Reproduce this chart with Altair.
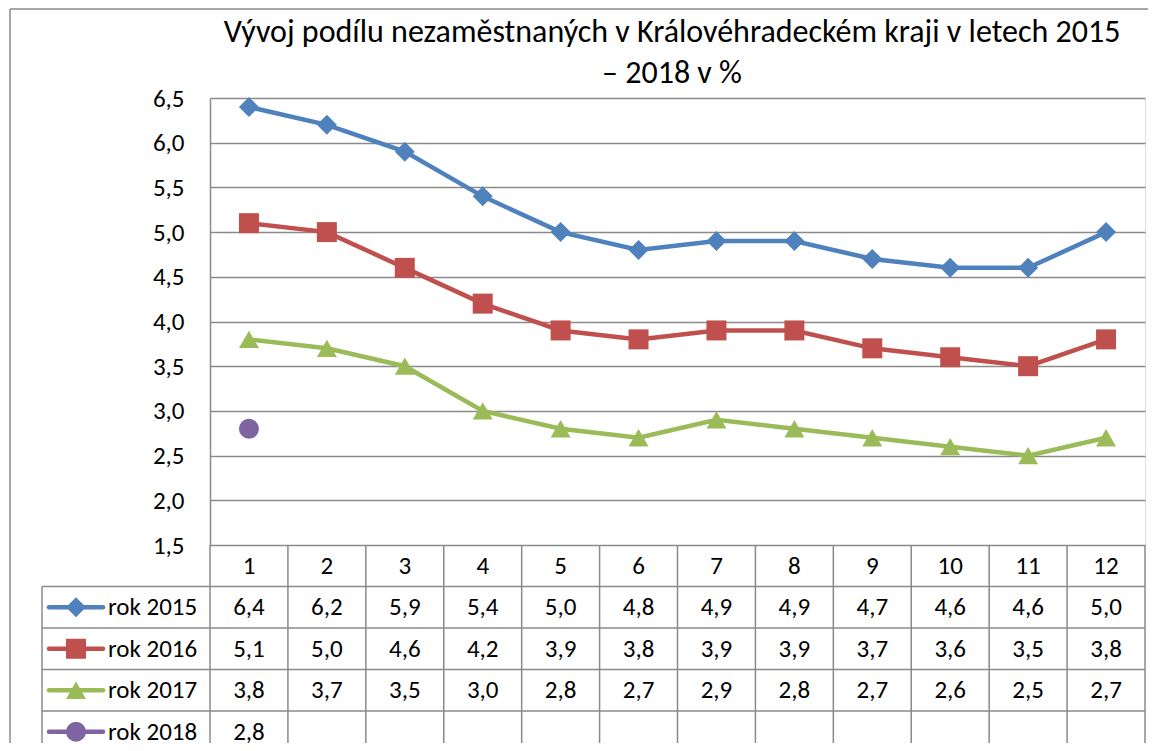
import altair as alt
import pandas as pd

# ---------------- data ----------------
months = list(range(1, 13))
series = ["rok 2015", "rok 2016", "rok 2017", "rok 2018"]
v2015 = [6.4, 6.2, 5.9, 5.4, 5.0, 4.8, 4.9, 4.9, 4.7, 4.6, 4.6, 5.0]
v2016 = [5.1, 5.0, 4.6, 4.2, 3.9, 3.8, 3.9, 3.9, 3.7, 3.6, 3.5, 3.8]
v2017 = [3.8, 3.7, 3.5, 3.0, 2.8, 2.7, 2.9, 2.8, 2.7, 2.6, 2.5, 2.7]
v2018 = [2.8]
y_ticks = [1.5, 2.0, 2.5, 3.0, 3.5, 4.0, 4.5, 5.0, 5.5, 6.0, 6.5]
title_lines = ["Vývoj podílu nezaměstnaných v Královéhradeckém kraji v letech 2015",
               "– 2018 v %"]

# ---------------- style ----------------
colors = ["#4F81BD", "#C0504D", "#9BBB59", "#8064A2"]
shapes = ["diamond", "square", "triangle-up", "circle"]
sizes = [400, 400, 480, 441]
FONT = "Carlito, Lato, sans-serif"
FS = 25
GRID = "#8a8a8a"
W, H = 935, 447
ROWS = 5
ROW_RANGE = [H, H + 207.5]

values = [v2015, v2016, v2017, v2018]
recs = []
for i, (s, vals) in enumerate(zip(series, values)):
    for m, v in zip(months, vals):
        recs.append({"series": s, "month": m, "value": v, "row": i + 1.5,
                     "label": f"{v:.1f}".replace(".", ",")})
df = pd.DataFrame(recs)
header = pd.DataFrame({"month": months, "row": 0.5, "label": [str(m) for m in months]})
leg = pd.DataFrame({"series": series, "row": [i + 1.5 for i in range(len(series))]})
hlines = pd.DataFrame({"row": list(range(1, ROWS + 1))})
vlines = pd.DataFrame({"b": [m - 0.5 for m in months] + [months[-1] + 0.5], "top": 0, "bot": ROWS})
leftedge = pd.DataFrame({"top": [1], "bot": [ROWS]})
dummy = pd.DataFrame({"a": [0]})
title_df = pd.DataFrame({"t": ["\n".join(title_lines)]})

xs = alt.Scale(domain=[0.5, 12.5], nice=False, zero=False)
ys = alt.Scale(domain=[1.5, 6.5], nice=False, zero=False)
ts = alt.Scale(domain=[0, ROWS], range=ROW_RANGE, nice=False, zero=False)
cs = alt.Scale(domain=series, range=colors)
shs = alt.Scale(domain=series, range=shapes)
szs = alt.Scale(domain=series, range=sizes)

yaxis = alt.Axis(values=y_ticks, labelExpr="replace(format(datum.value, '.1f'), '.', ',')",
                 grid=True, gridColor=GRID, gridWidth=1.5, domainColor=GRID, domainWidth=1.5,
                 ticks=False, labelPadding=26, labelFont=FONT, labelFontSize=FS,
                 labelColor="black", title=None)

lines = alt.Chart(df).mark_line(strokeWidth=4.5).encode(
    x=alt.X("month:Q", scale=xs, axis=None),
    y=alt.Y("value:Q", scale=ys, axis=yaxis),
    color=alt.Color("series:N", scale=cs, legend=None),
)
points = alt.Chart(df).mark_point(filled=True, opacity=1, strokeWidth=0).encode(
    x=alt.X("month:Q", scale=xs, axis=None),
    y=alt.Y("value:Q", scale=ys),
    color=alt.Color("series:N", scale=cs, legend=None),
    shape=alt.Shape("series:N", scale=shs, legend=None),
    size=alt.Size("series:N", scale=szs, legend=None),
)
frame_left = alt.Chart(dummy).mark_rule(color=GRID, strokeWidth=1.5).encode(
    x=alt.value(-200), y=alt.value(-89), y2=alt.value(700))
frame_top = alt.Chart(dummy).mark_rule(color=GRID, strokeWidth=1.5).encode(
    x=alt.value(-200), x2=alt.value(1000), y=alt.value(-89))
title = alt.Chart(title_df).mark_text(font=FONT, fontSize=32, color="black", align="center",
                                      baseline="alphabetic", lineBreak="\n",
                                      lineHeight=41).encode(
    x=alt.value(462), y=alt.value(-56), text="t:N")

plot = alt.layer(frame_left, frame_top, title, lines, points)

# ---------------- data table ----------------
h_rules = alt.Chart(hlines).mark_rule(color=GRID, strokeWidth=1.5).encode(
    y=alt.Y("row:Q", scale=ts, axis=None), x=alt.value(-168), x2=alt.value(W))
v_rules = alt.Chart(vlines).mark_rule(color=GRID, strokeWidth=1.5).encode(
    x=alt.X("b:Q", scale=xs, axis=None),
    y=alt.Y("top:Q", scale=ts, axis=None), y2="bot:Q")
left_rule = alt.Chart(leftedge).mark_rule(color=GRID, strokeWidth=1.5).encode(
    x=alt.value(-168), y=alt.Y("top:Q", scale=ts, axis=None), y2="bot:Q")
head_text = alt.Chart(header).mark_text(font=FONT, fontSize=FS, color="black",
                                        baseline="middle").encode(
    x=alt.X("month:Q", scale=xs, axis=None),
    y=alt.Y("row:Q", scale=ts, axis=None), text="label:N")
val_text = alt.Chart(df).mark_text(font=FONT, fontSize=FS, color="black",
                                   baseline="middle").encode(
    x=alt.X("month:Q", scale=xs, axis=None),
    y=alt.Y("row:Q", scale=ts, axis=None), text="label:N")
leg_line = alt.Chart(leg).mark_rule(strokeWidth=4.5, strokeCap="round").encode(
    x=alt.value(-161), x2=alt.value(-107),
    y=alt.Y("row:Q", scale=ts, axis=None),
    color=alt.Color("series:N", scale=cs, legend=None))
leg_pt = alt.Chart(leg).mark_point(filled=True, opacity=1, strokeWidth=0).encode(
    x=alt.value(-134), y=alt.Y("row:Q", scale=ts, axis=None),
    color=alt.Color("series:N", scale=cs, legend=None),
    shape=alt.Shape("series:N", scale=shs, legend=None),
    size=alt.Size("series:N", scale=szs, legend=None))
leg_text = alt.Chart(leg).mark_text(font=FONT, fontSize=FS, color="black", align="left",
                                    baseline="middle").encode(
    x=alt.value(-102), y=alt.Y("row:Q", scale=ts, axis=None), text="series:N")

table = alt.layer(h_rules, v_rules, left_rule, head_text, val_text, leg_line, leg_pt, leg_text)

chart = alt.layer(plot, table).resolve_scale(y="independent").properties(
    width=W, height=H,
    padding={"left": 202, "top": 90, "right": 3, "bottom": 198},
    autosize=alt.AutoSizeParams(type="none"),
).configure_view(stroke=None).configure(background="white")

chart.save("out.html", embed_options={"renderer": "svg", "actions": False})
